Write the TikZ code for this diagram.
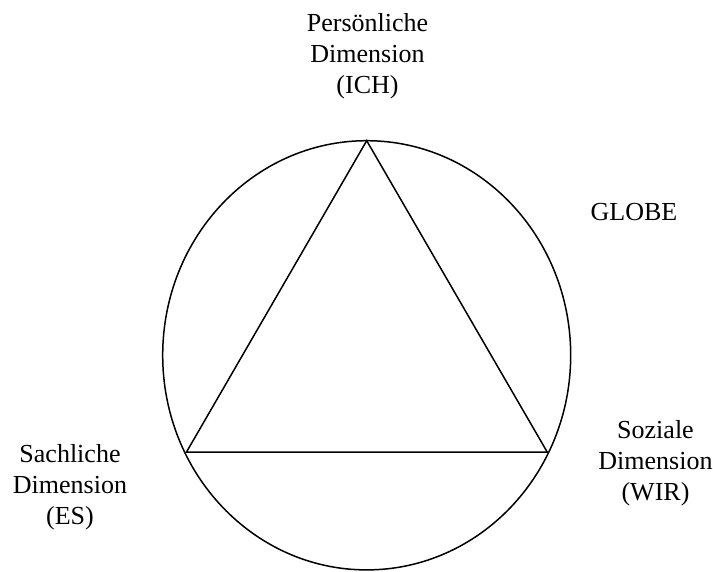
\documentclass[tikz,border=0pt]{standalone}
\usepackage{fontspec}
\setmainfont{Liberation Serif}
\usepackage{tikz}
\usetikzlibrary{positioning}

\begin{document}
\begin{tikzpicture}[x=1pt, y=-1pt, line width=1.5pt,
    font = \fontsize{26}{31}\selectfont,
    dimlabel/.style = {align=center, inner sep=0pt}]
    \useasboundingbox (0,0) rectangle (713,571);

    \coordinate (ich) at (366.7,140.7);
    \coordinate (es) at (186.5,452);
    \coordinate (wir) at (547.2,452);

    \node[dimlabel] (ichtext) at (367.5,56) {Persönliche\\Dimension\\(ICH)};
    \node[dimlabel] (estext) at (70,487) {Sachliche\\Dimension\\(ES)};
    \node[dimlabel] (wirtext) at (655.5,463) {Soziale\\Dimension\\(WIR)};
    \node[dimlabel] (globe) at (634,212.5) {GLOBE};

    \draw (366.7,355.3) ellipse [x radius=204pt, y radius=214.6pt];
    \draw[line join=miter] (ich) -- (wir) -- (es) -- cycle;
\end{tikzpicture}
\end{document}
